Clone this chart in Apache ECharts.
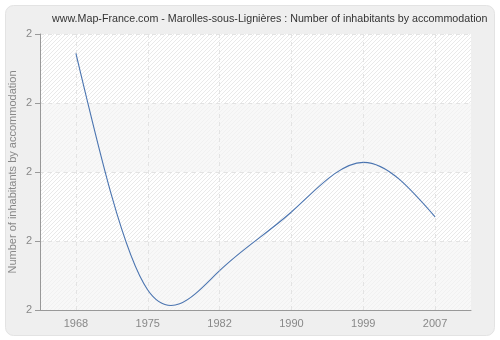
<!DOCTYPE html>
<html>
<head>
<meta charset="utf-8">
<script src="https://cdn.jsdelivr.net/npm/echarts@6/dist/echarts.min.js"></script>
<style>
html,body{margin:0;padding:0;background:#ffffff;}
#chart{width:500px;height:340px;}
</style>
</head>
<body>
<div id="chart"></div>
<script>
var years = ['1968', '1975', '1982', '1990', '1999', '2007'];
var values = [2.172, 1.829, 1.857, 1.942, 2.014, 1.935];
var yTicks = [1.8, 1.9, 2.0, 2.1, 2.2];
var titleText = 'www.Map-France.com - Marolles-sous-Lignières : Number of inhabitants by accommodation';
var yName = 'Number of inhabitants by accommodation';

function hatch(bg, line) {
  var c = document.createElement('canvas');
  c.width = 4; c.height = 4;
  var ctx = c.getContext('2d');
  ctx.fillStyle = bg; ctx.fillRect(0, 0, 4, 4);
  ctx.strokeStyle = line; ctx.lineWidth = 1;
  ctx.beginPath();
  ctx.moveTo(0, 4); ctx.lineTo(4, 0);
  ctx.moveTo(-1, 1); ctx.lineTo(1, -1);
  ctx.moveTo(3, 5); ctx.lineTo(5, 3);
  ctx.stroke();
  return { image: c, repeat: 'repeat' };
}

function splineMoments(ys, h) {
  var n = ys.length, M = new Array(n).fill(0);
  if (n < 3) return M;
  var a = [], b = [], c = [], d = [];
  for (var i = 1; i < n - 1; i++) {
    a.push(1); b.push(4); c.push(1);
    d.push(6 * (ys[i + 1] - 2 * ys[i] + ys[i - 1]) / (h * h));
  }
  var m = d.length;
  for (var k = 1; k < m; k++) {
    var w = a[k] / b[k - 1];
    b[k] -= w * c[k - 1];
    d[k] -= w * d[k - 1];
  }
  var x = new Array(m);
  x[m - 1] = d[m - 1] / b[m - 1];
  for (var k2 = m - 2; k2 >= 0; k2--) x[k2] = (d[k2] - c[k2] * x[k2 + 1]) / b[k2];
  for (var j = 0; j < m; j++) M[j + 1] = x[j];
  return M;
}

var chart = echarts.init(document.getElementById('chart'), null, { renderer: 'canvas' });
var fontFam = '"Liberation Sans", Arial, sans-serif';
chart.setOption({
  backgroundColor: '#ffffff',
  animation: false,
  graphic: [{
    type: 'rect', left: 5, top: 5, z: -10,
    shape: { width: 489, height: 330, r: 8 },
    style: { fill: '#efefef', stroke: '#e3e3e3', lineWidth: 1 }
  }],
  title: {
    text: titleText,
    left: 47, top: 9,
    textStyle: { fontSize: 10.7, fontWeight: 'normal', color: '#333333', fontFamily: fontFam }
  },
  grid: { left: 40, right: 29, top: 34, bottom: 30, containLabel: false, outerBoundsMode: 'none' },
  xAxis: {
    type: 'category',
    data: years,
    boundaryGap: true,
    axisLine: { lineStyle: { color: '#999999', width: 1 } },
    axisTick: { alignWithLabel: true, length: 5, lineStyle: { color: '#999999' } },
    axisLabel: { color: '#888888', fontSize: 11, fontFamily: fontFam, margin: 8 },
    splitLine: { show: true, alignWithLabel: true, lineStyle: { color: '#e3e3e3', type: [4, 4] } }
  },
  yAxis: {
    type: 'value',
    min: yTicks[0], max: yTicks[yTicks.length - 1], interval: 0.1,
    name: yName,
    nameLocation: 'middle',
    nameGap: 22,
    nameMoveOverlap: false,
    nameTextStyle: { color: '#888888', fontSize: 11, fontFamily: fontFam },
    axisLine: { show: true, lineStyle: { color: '#999999', width: 1 } },
    axisTick: { show: true, length: 5, lineStyle: { color: '#999999' } },
    axisLabel: { color: '#888888', fontSize: 11, fontFamily: fontFam, margin: 8,
      formatter: function (v) { return String(Math.round(v)); } },
    splitLine: { show: true, lineStyle: { color: '#e3e3e3', type: [4, 4] } },
    splitArea: { show: true, areaStyle: { color: [hatch('#f8f8f8', '#f1f1f1'), hatch('#ffffff', '#e9e9e9')] } }
  },
  series: [{
    type: 'custom',
    coordinateSystem: 'cartesian2d',
    data: values.map(function (v, i) { return [i, v]; }),
    encode: { x: 0, y: 1 },
    renderItem: function (params, api) {
      var i = params.dataIndex;
      if (i >= values.length - 1) return { type: 'group', children: [] };
      var pts = values.map(function (v, k) { return api.coord([k, v]); });
      var h = pts[1][0] - pts[0][0];
      var M = splineMoments(pts.map(function (p) { return p[1]; }), h);
      var x0 = pts[i][0], y0 = pts[i][1], x1 = pts[i + 1][0], y1 = pts[i + 1][1];
      var d0 = (y1 - y0) / h - h * (2 * M[i] + M[i + 1]) / 6;
      var d1 = (y1 - y0) / h + h * (M[i] + 2 * M[i + 1]) / 6;
      return {
        type: 'bezierCurve',
        shape: { x1: x0, y1: y0, x2: x1, y2: y1,
          cpx1: x0 + h / 3, cpy1: y0 + h / 3 * d0,
          cpx2: x1 - h / 3, cpy2: y1 - h / 3 * d1 },
        style: { stroke: '#4a74b0', lineWidth: 1.1, fill: null }
      };
    },
    silent: true
  }]
});
</script>
</body>
</html>
